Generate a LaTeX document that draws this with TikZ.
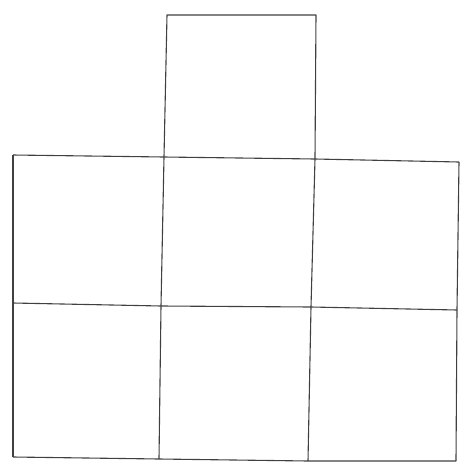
\documentclass[tikz,border=0pt]{standalone}
\begin{document}
\begin{tikzpicture}[x=1pt,y=-1pt,grid/.style={draw=black!75,line width=1.1pt,line join=round}]
\useasboundingbox (0,0) rectangle (459,464);
\coordinate (t1) at (167,15);
\coordinate (t2) at (316,15);
\coordinate (a1) at (13,155);
\coordinate (a2) at (164,157);
\coordinate (a3) at (315,159);
\coordinate (a4) at (459,162);
\coordinate (b1) at (13,303);
\coordinate (b2) at (161,306);
\coordinate (b3) at (311,307);
\coordinate (b4) at (457,310);
\coordinate (c1) at (13,457);
\coordinate (c2) at (159,459);
\coordinate (c3) at (308,461);
\coordinate (c4) at (456,461);
\draw[grid] (a2) -- (t1) -- (t2) -- (a3);
\draw[grid] (a1) -- (a2) -- (a3) -- (a4);
\draw[grid] (b1) -- (b2) -- (b3) -- (b4);
\draw[grid] (c1) -- (c2) -- (c3) -- (c4);
\draw[grid] (a1) -- (b1) -- (c1);
\draw[grid] (a2) -- (b2) -- (c2);
\draw[grid] (a3) -- (b3) -- (c3);
\draw[grid] (a4) -- (b4) -- (c4);
\end{tikzpicture}
\end{document}
